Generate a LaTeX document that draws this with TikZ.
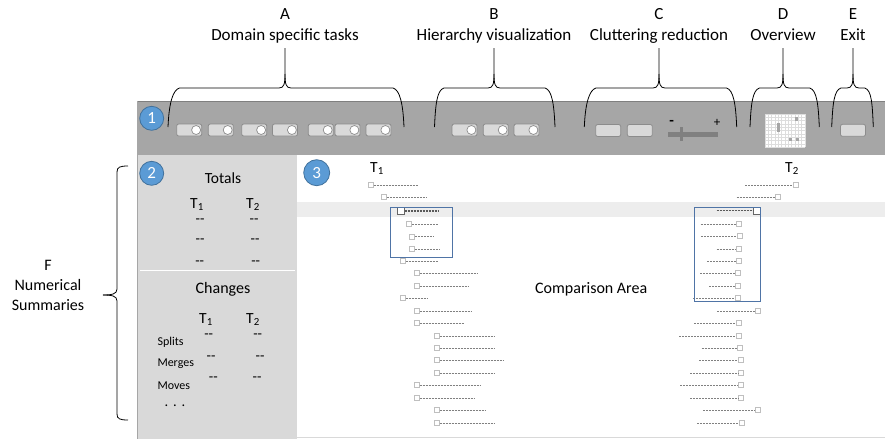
\documentclass[tikz,border=0pt]{standalone}
\usepackage{fontspec}
\setmainfont{Carlito}
\definecolor{barc}{HTML}{A6A6A6}
\definecolor{baredge}{HTML}{7F7F7F}
\definecolor{panelc}{HTML}{D9D9D9}
\definecolor{hlc}{HTML}{EDEDED}
\definecolor{btnfill}{HTML}{D9D9D9}
\definecolor{btnedge}{HTML}{8C8C8C}
\definecolor{numblue}{HTML}{5B9BD5}
\definecolor{numedge}{HTML}{41719C}
\definecolor{sqedge}{HTML}{BFBFBF}
\definecolor{dlc}{HTML}{808080}
\definecolor{boxblue}{HTML}{4F74A6}
\definecolor{slc}{HTML}{808080}
\definecolor{gridc}{HTML}{DDDDDD}
\newcommand\topbrace[6]{%
  \draw[brace] (#1,127) .. controls (#1+1,104) and (#2,90) .. (#2+7,88)
    -- (#5-6,88) .. controls (#5-1,88) and (#5,84) .. (#5,74) -- (#5,48);
  \draw[brace] (#5,74) .. controls (#5,84) and (#5+1,88) .. (#5+6,88)
    -- (#4-7,88) .. controls (#4,90) and (#3-1,104) .. (#3,127);}
\begin{document}
\begin{tikzpicture}[x=1pt,y=-1pt,
  toplbl/.style={font=\fontsize{17}{20}\selectfont, inner sep=0, anchor=base},
  plbl/.style={font=\fontsize{15.5}{18}\selectfont, inner sep=0, anchor=base},
  dlbl/.style={font=\fontsize{14.5}{17}\selectfont, inner sep=0, anchor=base},
  blbl/.style={font=\fontsize{16}{19}\selectfont, inner sep=0, anchor=base},
  slbl/.style={font=\fontsize{12}{14}\selectfont, inner sep=0, anchor=base west},
  numc/.style={circle, fill=numblue, draw=numedge, line width=0.8, minimum size=24, inner sep=0, text=white, font=\fontsize{17}{19}\selectfont},
  btn/.style={draw=btnedge, fill=btnfill, rounded corners=2, minimum width=25, minimum height=12, inner sep=0, line width=0.8},
  knob/.style={circle, draw=btnedge, fill=white, minimum size=9, inner sep=0, line width=0.7},
  sq/.style={draw=sqedge, fill=white, minimum size=5, inner sep=0, line width=0.7},
  sqh/.style={draw=dlc!80!black, fill=white, minimum size=7, inner sep=0, line width=0.9},
  dl/.style={draw=dlc, line width=0.6, dash pattern=on 2pt off 1pt},
  dlh/.style={draw=dlc!70!black, line width=1.1, dash pattern=on 2pt off 1pt},
  brace/.style={draw=black, line width=0.8},
  bbox/.style={draw=boxblue, line width=1}]
\useasboundingbox (0,0) rectangle (885,439);
% panels
\fill[white] (0,0) rectangle (885,439);
\fill[barc] (137,101) rectangle (885,155);
\draw[baredge, line width=1] (137,101.5) -- (885,101.5);
\fill[panelc] (137,155) rectangle (297,439);
\draw[barc, line width=1.2] (137.6,101) -- (137.6,439);
\draw[white, line width=1.5] (140,270.6) -- (295,270.6);
\fill[hlc] (297,202) rectangle (885,216.7);
\draw[panelc, line width=1.5] (297,437.6) -- (885,437.6);
% numbered circles
\node[numc] (n1) at (151.7,118.3) {1};
\node[numc] (n2) at (151.7,173.3) {2};
\node[numc, minimum size=26] (n3) at (316.7,172.7) {3};
% top labels
\node[toplbl] (la) at (285,19) {A};
\node[toplbl] (lat) at (285,40.5) {Domain specific tasks};
\node[toplbl] (lb) at (494,19) {B};
\node[toplbl] (lbt) at (494,40.5) {Hierarchy visualization};
\node[toplbl] (lc) at (659,19) {C};
\node[toplbl] (lct) at (659,40.5) {Cluttering reduction};
\node[toplbl] (ld) at (783,19) {D};
\node[toplbl] (ldt) at (783,40.5) {Overview};
\node[toplbl] (le) at (853,19) {E};
\node[toplbl] (let) at (853,40.5) {Exit};
% braces
\topbrace{168}{172.5}{404}{400}{285}{}
\topbrace{434.5}{437}{555}{552}{494}{}
\topbrace{584.3}{589}{736.7}{733.5}{659}{}
\topbrace{750}{752.5}{819.3}{816.7}{783}{}
\topbrace{831.7}{834}{873.3}{871.7}{853}{}
% buttons with knobs
\foreach \i/\x in {1/189.2, 2/220.8, 3/254.2, 4/285, 5/320.8, 6/347.5, 7/378.5, 8/464.5, 9/495.8, 10/526.5}{
  \node[btn] (bt\i) at (\x,130) {};
  \node[knob] (kn\i) at ([xshift=-6]bt\i.east) {};
}
\node[btn] (c1) at (608.2,130.5) {};
\node[btn] (c2) at (639.8,130.5) {};
\node[btn] (ex) at (853,130.3) {};
% slider
\fill[slc] (668,131.7) rectangle (718,136.7);
\fill[slc] (680.3,127.3) rectangle (683,140.7);
\node[font=\fontsize{15}{17}\selectfont\bfseries, inner sep=0] (minus) at (671.7,122.5) {-};
\node[font=\fontsize{13}{15}\selectfont, inner sep=0] (plus) at (717,123.3) {+};
% overview grid
\fill[white] (765,114) rectangle (805,147.3);
\foreach \k in {0,...,12}{
  \draw[gridc, line width=0.4] (765+\k*3.333,114) -- (765+\k*3.333,147.3);
}
\foreach \k in {0,...,10}{
  \draw[gridc, line width=0.4] (765,114+\k*3.33) -- (805,114+\k*3.33);
}
\fill[barc] (776.7,123.3) rectangle (780,131.7);
\fill[barc] (795,117.3) rectangle (798.3,120.7);
\fill[barc] (789.3,138) rectangle (792.3,141);
\fill[barc] (795.7,138) rectangle (798.7,141);
% left panel texts
\node[plbl] (totals) at (223,183.3) {Totals};
\node[plbl] (tt1) at (197,208.3) {T\textsubscript{1}};
\node[plbl] (tt2) at (253,208.3) {T\textsubscript{2}};
\node[dlbl] (d11) at (200,223.5) {-{}-};
\node[dlbl] (d12) at (254,223.5) {-{}-};
\node[dlbl] (d21) at (200,243.5) {-{}-};
\node[dlbl] (d22) at (255,243.5) {-{}-};
\node[dlbl] (d31) at (199.7,265.8) {-{}-};
\node[dlbl] (d32) at (255.7,265.8) {-{}-};
\node[blbl] (changes) at (223,293.3) {Changes};
\node[plbl] (ct1) at (206,323.3) {T\textsubscript{1}};
\node[plbl] (ct2) at (253,323.3) {T\textsubscript{2}};
\node[dlbl] (e11) at (208.7,338.5) {-{}-};
\node[dlbl] (e12) at (257.7,338.5) {-{}-};
\node[dlbl] (e21) at (211,360.8) {-{}-};
\node[dlbl] (e22) at (260,360.8) {-{}-};
\node[dlbl] (e31) at (213.3,381.8) {-{}-};
\node[dlbl] (e32) at (257,381.8) {-{}-};
\node[slbl] (splits) at (157.3,345) {Splits};
\node[slbl] (merges) at (157.3,366.7) {Merges};
\node[slbl] (moves) at (157.3,389) {Moves};
\node[dlbl] (dots) at (175,406.5) {.\,\,.\,\,.};
% F label and brace
\node[blbl] (f1) at (48,270.7) {F};
\node[blbl] (f2) at (48,290.7) {Numerical};
\node[blbl] (f3) at (48,310) {Summaries};
\draw[brace] (128,166) .. controls (120,166) and (117,167) .. (117,172) -- (117,289)
  .. controls (117,294) and (112,295) .. (103,295);
\draw[brace] (103,295) .. controls (112,295) and (117,296) .. (117,301) -- (117,414)
  .. controls (117,419) and (120,420) .. (128,420);
% comparison area
\node[plbl] (ct1a) at (377,172.7) {T\textsubscript{1}};
\node[plbl] (ct2a) at (792,172.7) {T\textsubscript{2}};
\node[blbl, anchor=base west] (comp) at (535,293.3) {Comparison Area};
% left tree
\foreach \i/\x/\y/\e in {1/370.7/185/418, 2/384/197/426, 4/409/224/438, 5/412/236.7/434,
  6/412/249/440, 7/402.7/261/437.7, 8/416.7/273/476.7, 9/416.7/286/467.7,
  10/402.7/298.3/427.7, 11/416.7/311/470.7, 12/416.7/323.3/464.3, 13/436.7/336/495,
  14/436.7/348.3/495, 15/436.7/360.3/504, 16/436.7/373.3/495, 17/416.7/385.3/480,
  18/416.7/398.3/474, 19/436.7/410.3/485, 20/436.7/423.3/495}{
  \node[sq] (ls\i) at (\x,\y) {};
  \coordinate (le\i) at (\e,\y);
  \draw[dl] (ls\i.east) -- (le\i);
}
\node[sqh] (ls3) at (400.7,211) {};
\coordinate (le3) at (438,211);
\draw[dlh] (ls3.east) -- (le3);
% right tree
\foreach \i/\x/\y/\s in {1/795.7/185/745, 2/777.7/197/736.7, 4/739/224/700.7, 5/739.7/236.3/701,
  6/738.7/249.3/716.7, 7/738.7/261/707.3, 8/738.3/273.3/700, 9/737.7/286.3/709.3,
  10/737.7/298.3/693.3, 11/758.3/311.3/717.3, 12/739/323.3/694.3, 13/739/336.3/679.3,
  14/740/348.3/701.7, 15/741/360.3/699.3, 16/741/373.3/690, 17/741/385.3/680,
  18/741/398.3/690, 19/757.7/410.3/703.3, 20/741.7/423.3/697.3}{
  \node[sq] (rs\i) at (\x,\y) {};
  \coordinate (rb\i) at (\s,\y);
  \draw[dl] (rb\i) -- (rs\i.west);
}
\node[sqh] (rs3) at (757.3,210.7) {};
\coordinate (rb3) at (716.7,210.7);
\draw[dlh] (rb3) -- (rs3.west);
% blue selection boxes
\draw[bbox] (390,207.7) rectangle (452.3,257.7);
\draw[bbox] (694.3,207.3) rectangle (760.7,301.7);
\end{tikzpicture}
\end{document}
